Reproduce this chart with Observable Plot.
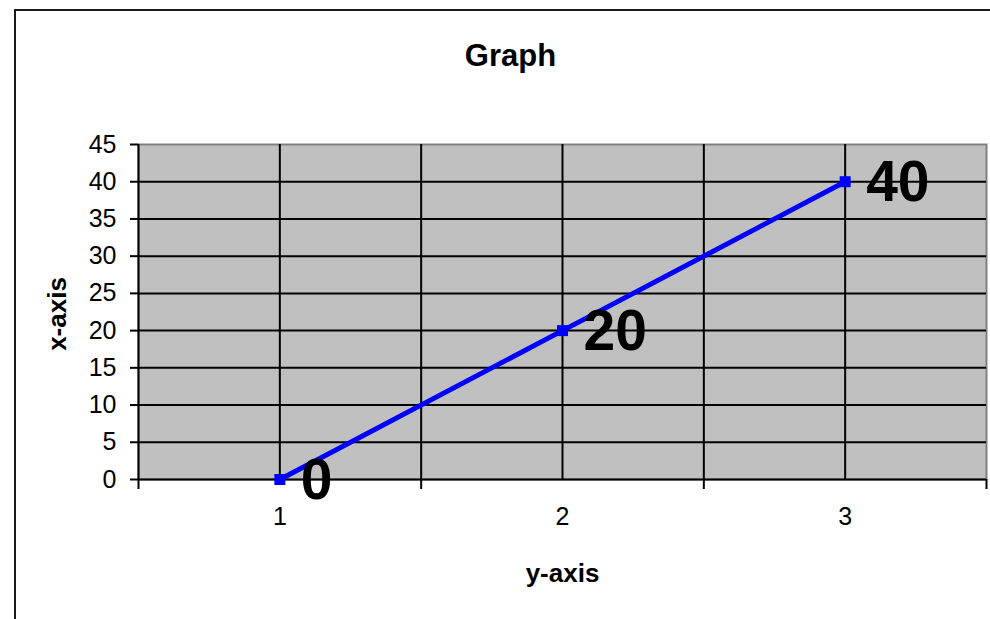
<!DOCTYPE html>
<html>
<head>
<meta charset="utf-8">
<script src="https://cdn.jsdelivr.net/npm/d3@7"></script>
<script src="https://cdn.jsdelivr.net/npm/@observablehq/plot@0.6"></script>
<style>
  html, body { margin: 0; padding: 0; background: #fff; overflow: hidden; width: 990px; height: 619px; }
  #wrap { position: relative; width: 990px; height: 619px; }
  #border { position: absolute; left: 14px; top: 9px; width: 2000px; height: 2000px; border: 2px solid #1a1a1a; pointer-events: none; }
  #chart { position: absolute; left: 0; top: 0; }
</style>
</head>
<body>
<div id="wrap"><div id="border"></div><div id="chart"></div></div>
<script>
// Data
const categories = [1, 2, 3];
const values = [0, 20, 40];
const yTicks = [0, 5, 10, 15, 20, 25, 30, 35, 40, 45];
const xTickLabels = [1, 2, 3];
const xTickMarks = [0.5, 1.5, 2.5, 3.5];
const xGrid = [1, 1.5, 2, 2.5, 3];
const yGrid = [5, 10, 15, 20, 25, 30, 35, 40];
const title = "Graph";
const xTitle = "y-axis";
const yTitle = "x-axis";

const data = categories.map((c, i) => ({x: c, y: values[i]}));
const font = "'Liberation Sans', Arial, sans-serif";

const chart = Plot.plot({
  width: 990,
  height: 619,
  marginLeft: 138,
  marginRight: 4,
  marginTop: 144,
  marginBottom: 140,
  style: {fontFamily: font, background: "transparent", color: "#000", overflow: "visible"},
  x: {domain: [0.5, 3.5], label: null},
  y: {domain: [0, 45], label: null},
  marks: [
    Plot.frame({fill: "#C0C0C0", stroke: "#808080", strokeWidth: 2}),
    Plot.ruleY(yGrid, {stroke: "#000", strokeWidth: 2}),
    Plot.ruleX(xGrid, {stroke: "#000", strokeWidth: 2}),
    Plot.ruleX([0.5], {stroke: "#000", strokeWidth: 2}),
    Plot.ruleY([0], {stroke: "#000", strokeWidth: 2}),
    Plot.axisY({ticks: yTicks, tickSize: 8, tickPadding: 14, fontSize: 25, strokeWidth: 2, label: null}),
    Plot.axisX({ticks: xTickMarks, tickSize: 10, tickFormat: () => "", strokeWidth: 2, label: null}),
    Plot.axisX({ticks: xTickLabels, tickSize: 0, tickPadding: 28, fontSize: 25, tickFormat: d => String(d), label: null}),
    Plot.line(data, {x: "x", y: "y", stroke: "#0000FF", strokeWidth: 5}),
    Plot.dot(data, {x: "x", y: "y", symbol: "square", r: 6.2, fill: "#0000FF", stroke: "none"}),
    Plot.text(data, {x: "x", y: "y", text: d => String(d.y), textAnchor: "start", lineAnchor: "middle", dx: 21, dy: 1, fontSize: 57, fontWeight: "bold", fill: "#000"}),
    Plot.text([title], {text: d => d, frameAnchor: "top", dx: -52, dy: -79, lineAnchor: "bottom", fontSize: 31, fontWeight: "bold", fill: "#000"}),
    Plot.text([xTitle], {text: d => d, frameAnchor: "bottom", dx: 0, dy: 102, lineAnchor: "bottom", fontSize: 26, fontWeight: "bold", fill: "#000"}),
    Plot.text([yTitle], {text: d => d, frameAnchor: "left", dx: -81, dy: 2, rotate: -90, lineAnchor: "middle", textAnchor: "middle", fontSize: 26, fontWeight: "bold", fill: "#000"})
  ]
});
document.getElementById("chart").appendChild(chart);
</script>
</body>
</html>
